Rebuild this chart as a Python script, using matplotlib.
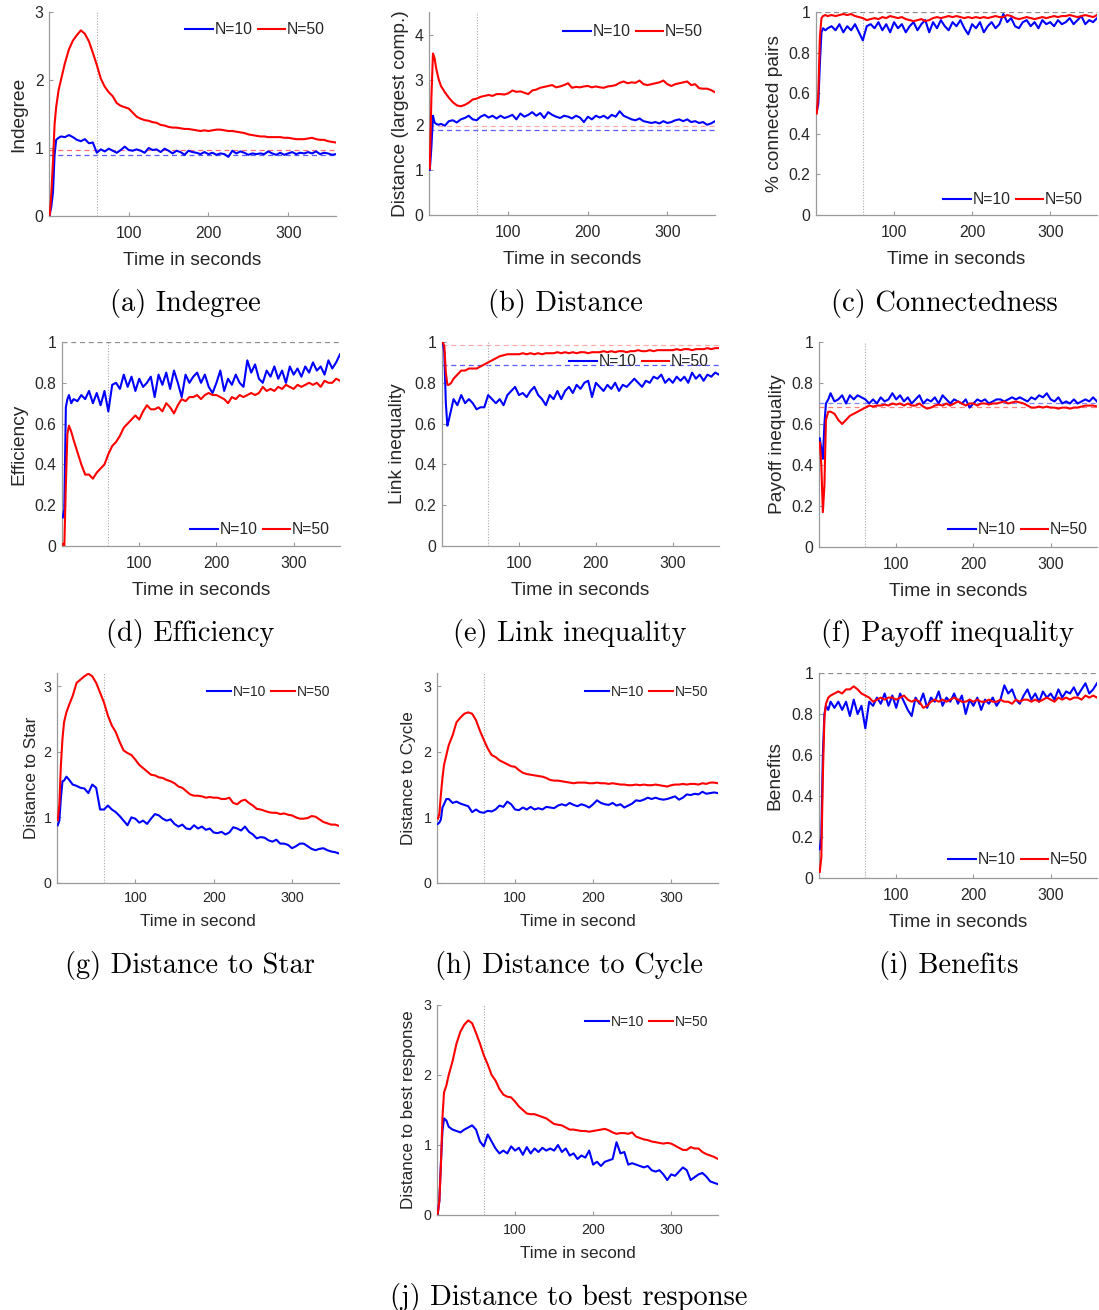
import numpy as np
import matplotlib
matplotlib.use("Agg")
import matplotlib.pyplot as plt
from matplotlib.ticker import FuncFormatter

# ---------------------------------------------------------------- data
# sampling instants (seconds)
T = [1, 3, 5, 7, 9, 12, 15] + list(range(20, 361, 5))

indeg_n10 = [0.02, 0.15, 0.35, 0.90, 1.12, 1.15, 1.17,
             1.16, 1.19, 1.16, 1.12, 1.10, 1.13, 1.07, 1.08, 0.93, 0.98,
             0.95, 0.99, 0.96, 0.93, 0.97, 1.02, 0.97, 0.96, 0.98, 0.96,
             0.93, 1.00, 0.97, 0.98, 0.94, 0.99, 0.96, 0.92, 0.96, 0.94,
             0.90, 0.96, 0.94, 0.93, 0.91, 0.94, 0.91, 0.93, 0.90, 0.92,
             0.91, 0.87, 0.96, 0.92, 0.95, 0.93, 0.90, 0.92, 0.91, 0.92,
             0.91, 0.95, 0.92, 0.90, 0.93, 0.90, 0.92, 0.94, 0.91, 0.93,
             0.92, 0.94, 0.92, 0.95, 0.91, 0.93, 0.92, 0.90, 0.91]
indeg_n50 = [0.02, 0.35, 0.80, 1.35, 1.60, 1.85, 2.00,
             2.25, 2.45, 2.58, 2.66, 2.73, 2.68, 2.57, 2.40, 2.22, 2.02,
             1.90, 1.82, 1.76, 1.66, 1.62, 1.60, 1.58, 1.52, 1.46, 1.43,
             1.41, 1.40, 1.38, 1.37, 1.34, 1.33, 1.31, 1.30, 1.30, 1.29,
             1.28, 1.28, 1.27, 1.26, 1.25, 1.26, 1.25, 1.26, 1.27, 1.27,
             1.26, 1.25, 1.25, 1.24, 1.23, 1.22, 1.20, 1.19, 1.18, 1.17,
             1.17, 1.16, 1.16, 1.16, 1.16, 1.15, 1.15, 1.14, 1.13, 1.13,
             1.13, 1.14, 1.15, 1.13, 1.12, 1.12, 1.10, 1.09, 1.08]
indeg_ref = [0.895, 0.97]

dist_n10 = [1.00, 1.50, 2.20, 2.05, 2.02, 2.00, 2.02,
            1.98, 2.08, 2.10, 2.05, 2.12, 2.15, 2.20, 2.12, 2.10, 2.18,
            2.22, 2.16, 2.20, 2.14, 2.20, 2.15, 2.18, 2.22, 2.12, 2.25,
            2.18, 2.22, 2.28, 2.20, 2.26, 2.15, 2.28, 2.22, 2.18, 2.15,
            2.20, 2.18, 2.14, 2.20, 2.16, 2.06, 2.18, 2.12, 2.20, 2.16,
            2.20, 2.14, 2.22, 2.18, 2.30, 2.20, 2.16, 2.12, 2.10, 2.14,
            2.08, 2.06, 2.04, 2.06, 2.03, 2.08, 2.04, 2.06, 2.10, 2.12,
            2.08, 2.12, 2.06, 2.08, 2.04, 2.06, 2.00, 2.03, 2.08]
dist_n50 = [1.03, 2.60, 3.58, 3.48, 3.25, 3.02, 2.86,
            2.72, 2.60, 2.50, 2.43, 2.41, 2.44, 2.49, 2.56, 2.58, 2.62,
            2.64, 2.66, 2.64, 2.68, 2.68, 2.67, 2.70, 2.76, 2.73, 2.74,
            2.71, 2.68, 2.76, 2.78, 2.82, 2.84, 2.86, 2.88, 2.83, 2.85,
            2.88, 2.92, 2.82, 2.84, 2.83, 2.85, 2.86, 2.83, 2.85, 2.83,
            2.82, 2.85, 2.86, 2.88, 2.93, 2.96, 2.92, 2.94, 2.93, 2.98,
            2.90, 2.88, 2.90, 2.92, 2.94, 2.98, 2.90, 2.86, 2.90, 2.92,
            2.94, 2.96, 2.88, 2.90, 2.81, 2.80, 2.80, 2.77, 2.72]
dist_ref = [1.88, 1.97]

conn_n10 = [0.51, 0.55, 0.75, 0.90, 0.92, 0.91, 0.92,
            0.93, 0.91, 0.94, 0.90, 0.93, 0.91, 0.94, 0.90, 0.86, 0.93,
            0.94, 0.92, 0.95, 0.91, 0.94, 0.90, 0.95, 0.92, 0.94, 0.90,
            0.93, 0.95, 0.91, 0.94, 0.96, 0.90, 0.95, 0.92, 0.96, 0.93,
            0.91, 0.95, 0.93, 0.96, 0.92, 0.89, 0.94, 0.92, 0.95, 0.90,
            0.93, 0.95, 0.92, 0.94, 0.99, 0.95, 0.97, 0.93, 0.92, 0.95,
            0.96, 0.93, 0.95, 0.92, 0.96, 0.94, 0.95, 0.93, 0.96, 0.94,
            0.95, 0.97, 0.94, 0.96, 0.98, 0.94, 0.96, 0.95, 0.97]
conn_n50 = [0.50, 0.60, 0.88, 0.97, 0.98, 0.985, 0.98,
            0.985, 0.98, 0.985, 0.99, 0.985, 0.99, 0.98, 0.975, 0.97, 0.96,
            0.965, 0.97, 0.965, 0.975, 0.97, 0.98, 0.975, 0.97, 0.975, 0.965,
            0.96, 0.955, 0.96, 0.965, 0.955, 0.96, 0.97, 0.975, 0.97, 0.975,
            0.98, 0.975, 0.98, 0.975, 0.97, 0.975, 0.97, 0.975, 0.97, 0.975,
            0.97, 0.975, 0.98, 0.975, 0.975, 0.985, 0.98, 0.97, 0.965, 0.97,
            0.975, 0.97, 0.965, 0.97, 0.975, 0.97, 0.975, 0.98, 0.975, 0.98,
            0.98, 0.985, 0.98, 0.975, 0.98, 0.985, 0.98, 0.975, 0.985]
conn_ref = [1.0]

eff_n10 = [0.14, 0.18, 0.68, 0.72, 0.74, 0.70, 0.72,
           0.71, 0.74, 0.72, 0.76, 0.70, 0.75, 0.69, 0.76, 0.66, 0.79,
           0.80, 0.77, 0.84, 0.78, 0.83, 0.76, 0.82, 0.78, 0.80, 0.83,
           0.73, 0.84, 0.79, 0.85, 0.77, 0.86, 0.80, 0.73, 0.84, 0.80,
           0.83, 0.85, 0.80, 0.84, 0.78, 0.75, 0.80, 0.86, 0.76, 0.82,
           0.79, 0.84, 0.80, 0.78, 0.91, 0.85, 0.89, 0.82, 0.80, 0.86,
           0.83, 0.88, 0.82, 0.86, 0.80, 0.88, 0.84, 0.87, 0.83, 0.88,
           0.85, 0.90, 0.86, 0.88, 0.84, 0.91, 0.87, 0.90, 0.94]
eff_n50 = [0.01, 0.00, 0.30, 0.55, 0.59, 0.56, 0.52,
           0.46, 0.40, 0.35, 0.35, 0.33, 0.36, 0.38, 0.40, 0.45, 0.49,
           0.51, 0.54, 0.58, 0.60, 0.62, 0.64, 0.62, 0.66, 0.69, 0.67,
           0.67, 0.68, 0.66, 0.70, 0.68, 0.65, 0.69, 0.72, 0.71, 0.73,
           0.73, 0.74, 0.72, 0.74, 0.75, 0.74, 0.74, 0.73, 0.72, 0.70,
           0.73, 0.72, 0.74, 0.73, 0.74, 0.75, 0.74, 0.75, 0.78, 0.76,
           0.77, 0.76, 0.78, 0.77, 0.79, 0.78, 0.77, 0.79, 0.78, 0.79,
           0.80, 0.79, 0.80, 0.78, 0.81, 0.80, 0.80, 0.82, 0.81]
eff_ref = [1.0]

link_n10 = [1.00, 0.95, 0.70, 0.59, 0.62, 0.67, 0.72,
            0.69, 0.74, 0.70, 0.72, 0.70, 0.67, 0.68, 0.68, 0.74, 0.72,
            0.70, 0.72, 0.69, 0.74, 0.76, 0.78, 0.74, 0.75, 0.73, 0.76,
            0.78, 0.74, 0.72, 0.69, 0.74, 0.72, 0.76, 0.72, 0.76, 0.78,
            0.75, 0.79, 0.77, 0.80, 0.81, 0.73, 0.80, 0.78, 0.76, 0.79,
            0.77, 0.80, 0.76, 0.79, 0.78, 0.80, 0.82, 0.80, 0.78, 0.81,
            0.80, 0.83, 0.82, 0.84, 0.80, 0.82, 0.80, 0.83, 0.81, 0.83,
            0.80, 0.85, 0.82, 0.84, 0.81, 0.84, 0.83, 0.85, 0.84]
link_n50 = [1.00, 0.98, 0.85, 0.79, 0.79, 0.80, 0.82,
            0.84, 0.86, 0.86, 0.87, 0.87, 0.87, 0.88, 0.89, 0.90, 0.91,
            0.92, 0.93, 0.935, 0.94, 0.94, 0.94, 0.94, 0.945, 0.94, 0.945,
            0.94, 0.945, 0.94, 0.945, 0.945, 0.945, 0.95, 0.945, 0.95, 0.945,
            0.95, 0.945, 0.95, 0.95, 0.945, 0.95, 0.95, 0.95, 0.955, 0.95,
            0.955, 0.95, 0.955, 0.955, 0.95, 0.955, 0.955, 0.96, 0.955, 0.955,
            0.96, 0.955, 0.96, 0.96, 0.96, 0.96, 0.96, 0.965, 0.96, 0.965,
            0.965, 0.96, 0.965, 0.965, 0.965, 0.97, 0.965, 0.97, 0.97]
link_ref = [0.889, 0.983]

pay_n10 = [0.53, 0.48, 0.43, 0.60, 0.70, 0.72, 0.75,
           0.71, 0.72, 0.74, 0.70, 0.74, 0.72, 0.74, 0.73, 0.72, 0.70,
           0.72, 0.70, 0.73, 0.71, 0.72, 0.75, 0.72, 0.74, 0.71, 0.73,
           0.70, 0.72, 0.74, 0.70, 0.72, 0.71, 0.73, 0.70, 0.74, 0.72,
           0.70, 0.72, 0.71, 0.70, 0.72, 0.68, 0.70, 0.72, 0.71, 0.72,
           0.70, 0.71, 0.72, 0.72, 0.71, 0.72, 0.73, 0.72, 0.73, 0.72,
           0.71, 0.73, 0.72, 0.74, 0.73, 0.75, 0.72, 0.71, 0.73, 0.70,
           0.71, 0.70, 0.72, 0.70, 0.71, 0.72, 0.71, 0.73, 0.71]
pay_n50 = [0.51, 0.40, 0.17, 0.30, 0.62, 0.66, 0.66,
           0.65, 0.62, 0.60, 0.62, 0.64, 0.65, 0.66, 0.67, 0.68, 0.69,
           0.685, 0.69, 0.69, 0.695, 0.69, 0.70, 0.695, 0.70, 0.69, 0.70,
           0.69, 0.69, 0.70, 0.685, 0.675, 0.68, 0.69, 0.695, 0.69, 0.70,
           0.69, 0.70, 0.71, 0.70, 0.69, 0.70, 0.70, 0.69, 0.70, 0.70,
           0.695, 0.70, 0.70, 0.705, 0.71, 0.70, 0.705, 0.71, 0.705, 0.70,
           0.69, 0.68, 0.68, 0.685, 0.68, 0.685, 0.68, 0.68, 0.675, 0.68,
           0.68, 0.675, 0.68, 0.68, 0.685, 0.69, 0.69, 0.69, 0.685]
pay_ref = [0.701, 0.682]

star_n10 = [0.88, 0.95, 1.30, 1.55, 1.56, 1.62, 1.58,
            1.50, 1.48, 1.45, 1.44, 1.37, 1.50, 1.45, 1.12, 1.12, 1.18,
            1.12, 1.08, 1.02, 0.95, 0.88, 1.00, 0.98, 0.92, 0.95, 0.90,
            0.98, 1.05, 1.03, 0.98, 0.95, 0.97, 0.90, 0.86, 0.89, 0.83,
            0.82, 0.88, 0.83, 0.86, 0.81, 0.83, 0.77, 0.76, 0.78, 0.74,
            0.77, 0.85, 0.83, 0.80, 0.86, 0.78, 0.74, 0.68, 0.70, 0.69,
            0.65, 0.63, 0.66, 0.60, 0.60, 0.58, 0.53, 0.56, 0.60, 0.60,
            0.56, 0.52, 0.50, 0.52, 0.53, 0.50, 0.48, 0.47, 0.45]
star_n50 = [0.96, 1.20, 1.80, 2.20, 2.45, 2.60, 2.70,
            2.85, 3.05, 3.10, 3.15, 3.19, 3.15, 3.05, 2.90, 2.75, 2.55,
            2.40, 2.30, 2.15, 2.02, 1.98, 1.95, 1.88, 1.80, 1.75, 1.70,
            1.65, 1.64, 1.61, 1.60, 1.57, 1.55, 1.52, 1.47, 1.45, 1.40,
            1.35, 1.33, 1.33, 1.32, 1.30, 1.31, 1.30, 1.30, 1.28, 1.28,
            1.30, 1.22, 1.20, 1.25, 1.27, 1.22, 1.18, 1.13, 1.12, 1.10,
            1.08, 1.07, 1.07, 1.05, 1.06, 1.04, 1.03, 1.00, 0.98, 0.98,
            0.99, 1.02, 1.01, 0.97, 0.93, 0.91, 0.89, 0.89, 0.87]

cycle_n10 = [0.90, 0.92, 0.97, 1.15, 1.20, 1.28, 1.28,
             1.22, 1.24, 1.21, 1.19, 1.17, 1.08, 1.12, 1.08, 1.07, 1.10,
             1.09, 1.12, 1.18, 1.16, 1.24, 1.20, 1.12, 1.11, 1.15, 1.12,
             1.16, 1.12, 1.14, 1.12, 1.16, 1.15, 1.14, 1.18, 1.20, 1.18,
             1.22, 1.19, 1.17, 1.20, 1.18, 1.15, 1.20, 1.26, 1.22, 1.20,
             1.19, 1.22, 1.18, 1.20, 1.15, 1.18, 1.21, 1.26, 1.25, 1.27,
             1.30, 1.28, 1.30, 1.28, 1.27, 1.28, 1.30, 1.32, 1.27, 1.30,
             1.35, 1.34, 1.36, 1.35, 1.39, 1.36, 1.37, 1.38, 1.37]
cycle_n50 = [0.98, 1.05, 1.35, 1.60, 1.80, 1.95, 2.10,
             2.25, 2.45, 2.52, 2.58, 2.60, 2.58, 2.48, 2.32, 2.18, 2.05,
             1.95, 1.92, 1.87, 1.84, 1.81, 1.78, 1.77, 1.72, 1.68, 1.66,
             1.65, 1.64, 1.63, 1.62, 1.60, 1.57, 1.56, 1.56, 1.55, 1.54,
             1.53, 1.52, 1.53, 1.53, 1.53, 1.52, 1.52, 1.53, 1.52, 1.52,
             1.51, 1.52, 1.51, 1.50, 1.50, 1.49, 1.49, 1.50, 1.49, 1.50,
             1.49, 1.49, 1.50, 1.49, 1.48, 1.47, 1.49, 1.50, 1.50, 1.51,
             1.50, 1.51, 1.51, 1.50, 1.52, 1.51, 1.53, 1.53, 1.52]

ben_n10 = [0.14, 0.20, 0.60, 0.80, 0.84, 0.82, 0.86,
           0.83, 0.86, 0.82, 0.86, 0.79, 0.87, 0.80, 0.84, 0.73, 0.86,
           0.84, 0.88, 0.85, 0.90, 0.84, 0.89, 0.83, 0.90, 0.86, 0.82,
           0.79, 0.88, 0.85, 0.90, 0.83, 0.88, 0.86, 0.91, 0.84, 0.88,
           0.86, 0.90, 0.85, 0.89, 0.80, 0.87, 0.84, 0.88, 0.82, 0.87,
           0.85, 0.88, 0.84, 0.87, 0.94, 0.90, 0.92, 0.87, 0.85, 0.89,
           0.92, 0.87, 0.90, 0.86, 0.91, 0.88, 0.90, 0.87, 0.92, 0.88,
           0.91, 0.90, 0.93, 0.89, 0.92, 0.95, 0.90, 0.92, 0.95]
ben_n50 = [0.03, 0.10, 0.50, 0.78, 0.85, 0.88, 0.89,
           0.90, 0.91, 0.90, 0.92, 0.92, 0.935, 0.92, 0.90, 0.89, 0.88,
           0.86, 0.87, 0.88, 0.87, 0.88, 0.88, 0.87, 0.88, 0.89, 0.87,
           0.86, 0.87, 0.86, 0.83, 0.84, 0.86, 0.87, 0.86, 0.87, 0.86,
           0.87, 0.88, 0.87, 0.86, 0.86, 0.87, 0.86, 0.87, 0.86, 0.86,
           0.87, 0.86, 0.86, 0.87, 0.86, 0.86, 0.85, 0.87, 0.86, 0.87,
           0.87, 0.86, 0.87, 0.86, 0.87, 0.88, 0.87, 0.86, 0.88, 0.87,
           0.88, 0.87, 0.88, 0.88, 0.87, 0.89, 0.88, 0.89, 0.88]
ben_ref = [1.0]

br_n10 = [0.02, 0.20, 0.75, 1.20, 1.38, 1.35, 1.26,
          1.22, 1.20, 1.18, 1.22, 1.25, 1.28, 1.22, 1.05, 0.98, 1.15,
          1.05, 0.95, 0.88, 0.92, 0.88, 0.98, 0.92, 0.96, 0.86, 0.97,
          0.88, 0.95, 0.90, 0.96, 0.92, 0.95, 0.92, 1.00, 0.90, 0.95,
          0.85, 0.88, 0.80, 0.85, 0.82, 0.92, 0.72, 0.76, 0.70, 0.76,
          0.78, 0.80, 1.04, 0.88, 0.90, 0.72, 0.74, 0.72, 0.70, 0.68,
          0.70, 0.64, 0.62, 0.64, 0.58, 0.50, 0.58, 0.56, 0.62, 0.68,
          0.64, 0.50, 0.54, 0.58, 0.60, 0.55, 0.48, 0.46, 0.44]
br_n50 = [0.02, 0.20, 0.70, 1.40, 1.75, 1.85, 2.00,
          2.20, 2.45, 2.62, 2.72, 2.78, 2.74, 2.60, 2.45, 2.28, 2.15,
          2.00, 1.92, 1.80, 1.72, 1.69, 1.68, 1.62, 1.55, 1.50, 1.45,
          1.44, 1.44, 1.42, 1.40, 1.38, 1.34, 1.30, 1.29, 1.28, 1.25,
          1.22, 1.22, 1.21, 1.20, 1.20, 1.19, 1.20, 1.21, 1.22, 1.23,
          1.21, 1.18, 1.16, 1.17, 1.17, 1.16, 1.18, 1.12, 1.10, 1.08,
          1.07, 1.05, 1.04, 1.03, 1.02, 1.03, 1.02, 0.99, 0.96, 0.93,
          0.93, 0.97, 0.95, 0.95, 0.90, 0.87, 0.85, 0.83, 0.80]

SERIES_LABELS = ["N=10", "N=50"]
X_TICKS = [100, 200, 300]
UNIT_TICKS = [0, 0.2, 0.4, 0.6, 0.8, 1]

# ---------------------------------------------------------------- figure
W, H = 1099, 1310
fig = plt.figure(figsize=(W / 100, H / 100), dpi=100)
plt.rcParams["font.family"] = ["Liberation Sans", "DejaVu Sans"]

BLUE, RED = "#0000ff", "#ff0000"
SPINE = "#9a9a9a"
TXT = "#262626"


def panel(box, ylim, yticks, ylabel, xlabel, n10, n50, legend_at, ylabel_right,
          caption, caption_at, refs=None, ref_colors=None, small=False):
    l, t, r, b = box
    ax = fig.add_axes([l / W, 1 - b / H, (r - l) / W, (b - t) / H])
    tick_fs = 10.3 if small else 11.3
    lab_fs = 12.3 if small else 13.8
    leg_fs = 10.0 if small else 11.3

    if refs:
        for v, c in zip(refs, ref_colors):
            ax.axhline(v, color=c, ls=(0, (4, 3)), lw=0.9, zorder=1)
    ax.axvline(60, color="#a8a8a8", ls=(0, (1, 1.5)), lw=0.8, zorder=1)

    h1, = ax.plot(T, n10, color=BLUE, lw=1.5, zorder=3)
    h2, = ax.plot(T, n50, color=RED, lw=1.5, zorder=3)

    ax.set_xlim(0, 360)
    ax.set_ylim(*ylim)
    ax.set_xticks(X_TICKS)
    ax.set_yticks(yticks)
    ax.yaxis.set_major_formatter(FuncFormatter(lambda v, p: f"{v:g}"))
    for s in ("top", "right"):
        ax.spines[s].set_visible(False)
    for s in ("left", "bottom"):
        ax.spines[s].set_color(SPINE)
        ax.spines[s].set_linewidth(0.9)
    ax.tick_params(direction="in", length=3, width=0.8, color=SPINE,
                   labelcolor=TXT, labelsize=tick_fs)
    ax.tick_params(axis="x", pad=7 if not small else 6)
    ax.tick_params(axis="y", pad=4)

    ax.set_ylabel(ylabel, fontsize=lab_fs, color=TXT)
    ax.yaxis.set_label_coords((ylabel_right - l) / (r - l), 0.5)
    ax.set_xlabel(xlabel, fontsize=lab_fs, color=TXT,
                  labelpad=6 if small else 8)

    lx, ly = legend_at
    ax.legend([h1, h2], SERIES_LABELS, ncol=2, loc="center right",
              bbox_to_anchor=((lx - l) / (r - l), (b - ly) / (b - t)),
              frameon=False, fontsize=leg_fs, handlelength=1.75,
              handletextpad=0.1, columnspacing=0.35, borderpad=0,
              borderaxespad=0, labelcolor=TXT)

    fig.text(caption_at[0] / W, 1 - caption_at[1] / H, caption,
             ha="center", va="center", fontfamily="cmr10", fontsize=20.5,
             color="black")
    return ax


GRAY_REF = ["#8c8c8c"]
panel((49, 12, 336, 216), (0, 3), [0, 1, 2, 3], "Indegree", "Time in seconds",
      indeg_n10, indeg_n50, (325, 30), 27, "(a) Indegree", (185.5, 303),
      refs=indeg_ref, ref_colors=["#5a5aff", "#ff6b6b"])
panel((429, 12, 715, 215), (0, 4.5), [0, 1, 2, 3, 4], "Distance (largest comp.)",
      "Time in seconds", dist_n10, dist_n50, (703, 31.7), 409,
      "(b) Distance", (565, 303),
      refs=dist_ref, ref_colors=["#5a5aff", "#ffaaaa"])
panel((816, 12, 1097, 215), (0, 1), UNIT_TICKS, "% connected pairs",
      "Time in seconds", conn_n10, conn_n50, (1083, 200), 783,
      "(c) Connectedness", (944, 303), refs=conn_ref, ref_colors=GRAY_REF)

panel((62, 342, 340, 546), (0, 1), UNIT_TICKS, "Efficiency", "Time in seconds",
      eff_n10, eff_n50, (330, 530), 27, "(d) Efficiency", (190, 634),
      refs=eff_ref, ref_colors=GRAY_REF)
panel((442, 342, 719, 546), (0, 1), UNIT_TICKS, "Link inequality",
      "Time in seconds", link_n10, link_n50, (709, 361.7), 406,
      "(e) Link inequality", (569.5, 634),
      refs=link_ref, ref_colors=["#5a5aff", "#ffaaaa"])
panel((819, 342, 1097, 547), (0, 1), UNIT_TICKS, "Payoff inequality",
      "Time in seconds", pay_n10, pay_n50, (1088, 530), 786,
      "(f) Payoff inequality", (947.5, 634),
      refs=pay_ref, ref_colors=["#8080ff", "#ff8080"])

panel((57, 673, 339, 883), (0, 3.2), [0, 1, 2, 3], "Distance to Star",
      "Time in second", star_n10, star_n50, (330, 691.7), 39,
      "(g) Distance to Star", (190, 965), small=True)
panel((437, 673, 718, 883), (0, 3.2), [0, 1, 2, 3], "Distance to Cycle",
      "Time in second", cycle_n10, cycle_n50, (708, 691.7), 416,
      "(h) Distance to Cycle", (569, 965), small=True)
panel((819, 673, 1097, 878), (0, 1), UNIT_TICKS, "Benefits", "Time in seconds",
      ben_n10, ben_n50, (1088, 860), 783, "(i) Benefits", (949, 965),
      refs=ben_ref, ref_colors=GRAY_REF)

panel((437, 1005, 718, 1215), (0, 3), [0, 1, 2, 3], "Distance to best response",
      "Time in second", br_n10, br_n50, (708, 1021.7), 416,
      "(j) Distance to best response", (569, 1297), small=True)

fig.savefig("out.png", dpi=100, facecolor="white")
